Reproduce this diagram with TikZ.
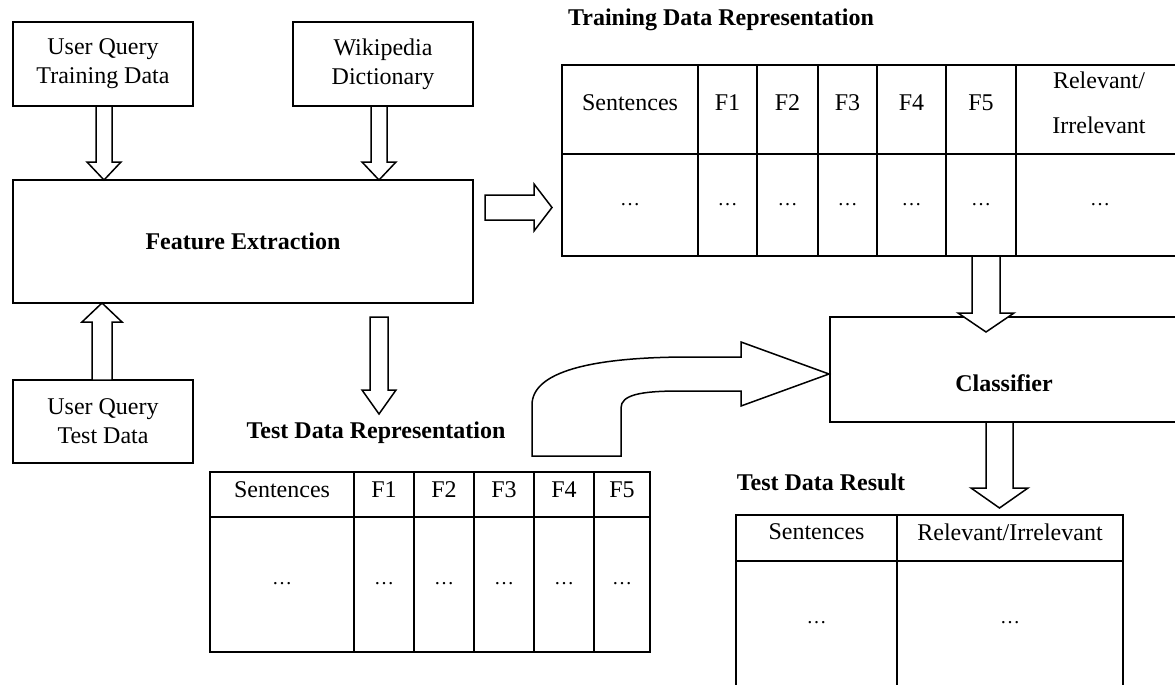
\documentclass[tikz,border=0pt]{standalone}
\usepackage{fontspec}
\setmainfont{Liberation Serif}
\begin{document}
\begin{tikzpicture}[x=1pt,y=-1pt,
  every node/.style={font=\fontsize{24}{29}\selectfont, inner sep=0pt},
  box/.style={draw, line width=1.7pt, align=center},
  title/.style={font=\fontsize{24}{29}\selectfont\bfseries},
  grid/.style={line width=2.2pt},
  blockarrow/.style={draw, fill=white, line width=1.5pt, line join=miter},
  dots/.style={font=\fontsize{20}{24}\selectfont}
]
\useasboundingbox (0,0) rectangle (1175,685);
\clip (0,0) rectangle (1175,685);

% ---- input sources and feature extraction
\node[box, minimum width=180pt, minimum height=84pt] (uqtrain) at (103,64) {User Query\\Training Data};
\node[box, minimum width=180pt, minimum height=84pt] (wiki) at (383,64) {Wikipedia\\Dictionary};
\node[box, minimum width=460pt, minimum height=123pt, font=\fontsize{24}{29}\selectfont\bfseries] (fe) at (243,241.5) {Feature Extraction};
\node[box, minimum width=180pt, minimum height=83pt] (uqtest) at (103,421.5) {User Query\\Test Data};

% ---- classifier (runs off the right edge)
\node[box, minimum width=360pt, minimum height=105pt] (cls) at (1010,369.5) {};
\node[title] (clstext) at (1004,383) {Classifier};

% ---- training data representation table
\node[title] (trtitle) at (721,20) {Training Data Representation};
\draw[grid] (562,65) rectangle (1190,256);
\draw[grid] (562,154) -- (1190,154);
\foreach \x in {698,757,818,877,946,1016}
  \draw[grid] (\x,65) -- (\x,256);
\foreach \x/\t [count=\i] in {630/Sentences,727.5/F1,787.5/F2,847.5/F3,911.5/F4,981/F5}
  \node (trh\i) at (\x,103) {\t};
\node[align=center, font=\fontsize{24}{45}\selectfont] (trh7) at (1099,103) {Relevant/\\Irrelevant};
\foreach \x [count=\i] in {630,727.5,787.5,847.5,911.5,981,1100}
  \node[dots] (trd\i) at (\x,205) {…};

% ---- test data representation table
\node[title] (tetitle) at (376,433) {Test Data Representation};
\draw[grid] (210,472) rectangle (650,652);
\draw[grid] (210,517) -- (650,517);
\foreach \x in {354,414,474,534,594}
  \draw[grid] (\x,472) -- (\x,652);
\foreach \x/\t [count=\i] in {282/Sentences,384/F1,444/F2,504/F3,564/F4,622/F5}
  \node (teh\i) at (\x,490) {\t};
\foreach \x [count=\i] in {282,384,444,504,564,622}
  \node[dots] (ted\i) at (\x,584) {…};

% ---- test data result table (continues below the edge)
\node[title] (restitle) at (821,482) {Test Data Result};
\draw[grid] (736,700) -- (736,515) -- (1123,515) -- (1123,700);
\draw[grid] (736,561) -- (1123,561);
\draw[grid] (897,515) -- (897,700);
\node (resh1) at (816.5,532) {Sentences};
\node (resh2) at (1010,532) {Relevant/Irrelevant};
\node[dots] (resd1) at (816.5,623) {…};
\node[dots] (resd2) at (1010,623) {…};

% ---- block arrows
% training data -> feature extraction
\draw[blockarrow] (96,106) -- (96,162) -- (87,162) -- (104,180) -- (121,162) -- (112,162) -- (112,106) -- cycle;
% dictionary -> feature extraction
\draw[blockarrow] (371,106) -- (371,162) -- (362,162) -- (379,180) -- (396,162) -- (387,162) -- (387,106) -- cycle;
% test data -> feature extraction
\draw[blockarrow] (92,380) -- (92,322) -- (82,322) -- (102,303) -- (122,322) -- (112,322) -- (112,380) -- cycle;
% feature extraction -> test representation
\draw[blockarrow] (370,317) -- (370,390) -- (362,390) -- (379,414) -- (396,390) -- (388,390) -- (388,317) -- cycle;
% feature extraction -> training representation
\draw[blockarrow] (485,195) -- (534,195) -- (534,184) -- (552,207.5) -- (534,231) -- (534,220) -- (485,220) -- cycle;
% training representation -> classifier
\draw[blockarrow] (972,256) -- (972,313) -- (958,313) -- (986,332) -- (1014,313) -- (1000,313) -- (1000,256) -- cycle;
% classifier -> result
\draw[blockarrow] (986,422) -- (986,488) -- (971,488) -- (999.5,508) -- (1028,488) -- (1013,488) -- (1013,422) -- cycle;
% test representation -> classifier (bent arrow)
\draw[blockarrow] (532,456) -- (532,405)
  .. controls (532,372) and (590,357) .. (690,357) -- (741,357) -- (741,342)
  -- (829,374) -- (741,406) -- (741,391) -- (680,391)
  .. controls (640,391) and (621,395) .. (621,408) -- (621,456) -- cycle;
\end{tikzpicture}
\end{document}
